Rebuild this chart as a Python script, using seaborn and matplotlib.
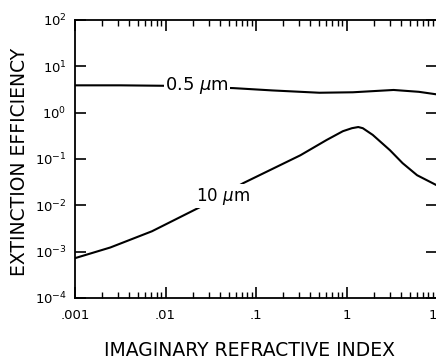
import numpy as np
import pandas as pd
import matplotlib
matplotlib.use("Agg")
import matplotlib.pyplot as plt
import seaborn as sns
from matplotlib.ticker import FixedLocator, LogLocator, NullFormatter

# log10 of imaginary refractive index and log10 of extinction efficiency
k_05 = [-3.0, -2.5, -2.0, -1.25, -0.82, -0.30, 0.07, 0.52, 0.80, 1.05]
q_05 = [0.59, 0.59, 0.58, 0.53, 0.48, 0.43, 0.44, 0.49, 0.45, 0.38]

k_10 = [-3.0, -2.61, -2.15, -1.62, -1.14, -0.51, -0.22, -0.04, 0.06, 0.13, 0.18,
        0.29, 0.48, 0.62, 0.78, 0.99, 1.05]
q_10 = [-3.14, -2.91, -2.56, -2.04, -1.52, -0.92, -0.59, -0.40, -0.335, -0.31, -0.335,
        -0.48, -0.81, -1.09, -1.35, -1.56, -1.61]

x_ticks = [0.001, 0.01, 0.1, 1, 10]
x_labels = [".001", ".01", ".1", "1", "10"]
y_ticks = [1e-4, 1e-3, 1e-2, 1e-1, 1e0, 1e1, 1e2]
y_labels = ["$10^{-4}$", "$10^{-3}$", "$10^{-2}$", "$10^{-1}$", "$10^{0}$", "$10^{1}$", "$10^{2}$"]

df = pd.concat([
    pd.DataFrame({"k": 10 ** np.array(k_05), "Q": 10 ** np.array(q_05), "wl": "0.5"}),
    pd.DataFrame({"k": 10 ** np.array(k_10), "Q": 10 ** np.array(q_10), "wl": "10"}),
])

sns.set_style("ticks")
plt.rcParams["font.family"] = ["DejaVu Sans"]
plt.rcParams["text.color"] = "black"
plt.rcParams["axes.labelcolor"] = "black"
plt.rcParams["xtick.color"] = "black"
plt.rcParams["ytick.color"] = "black"

fig = plt.figure(figsize=(4.36, 3.60), dpi=100)
ax = fig.add_axes([75 / 436, 1 - 298 / 360, 362 / 436, 278 / 360])

sns.lineplot(data=df, x="k", y="Q", units="wl", estimator=None, color="black",
             lw=1.5, ax=ax, sort=False)
ax.set_xscale("log")
ax.set_yscale("log")
ax.set_xlim(1e-3, 1e1)
ax.set_ylim(1e-4, 1e2)

ax.xaxis.set_major_locator(FixedLocator(x_ticks))
ax.set_xticklabels(x_labels)
ax.xaxis.set_minor_locator(LogLocator(base=10, subs=np.arange(2, 10)))
ax.xaxis.set_minor_formatter(NullFormatter())
ax.yaxis.set_major_locator(FixedLocator(y_ticks))
ax.set_yticklabels(y_labels)
ax.yaxis.set_minor_locator(FixedLocator([]))

ax.tick_params(which="major", direction="in", length=8, width=1.2,
               top=True, right=True, labelsize=9.5, colors="black")
ax.tick_params(axis="x", which="major", pad=8)
ax.tick_params(axis="y", which="major", pad=6)
ax.tick_params(which="minor", direction="in", length=4, width=1.0, top=True, right=False)
for s in ax.spines.values():
    s.set_linewidth(1.3)
    s.set_color("black")

ax.set_xlabel("IMAGINARY REFRACTIVE INDEX", fontsize=13.5)
ax.set_ylabel("EXTINCTION EFFICIENCY", fontsize=13.5)
ax.xaxis.set_label_coords(0.483, -0.155)
ax.yaxis.set_label_coords(-0.128, 0.489)

bb = dict(facecolor="white", edgecolor="none", pad=0.8)
ax.text(10 ** -1.65, 10 ** 0.58, "0.5 $\\mu$m", fontsize=13, ha="center", va="center", bbox=bb)
ax.text(10 ** -1.36, 10 ** -1.80, "10 $\\mu$m", fontsize=12, ha="center", va="center", bbox=bb)

fig.savefig("out.png", dpi=100)
